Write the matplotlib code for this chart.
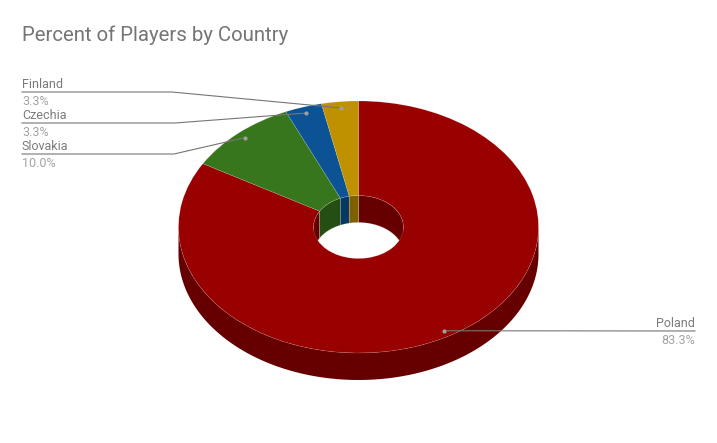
import numpy as np
import matplotlib
matplotlib.use("Agg")
import matplotlib.pyplot as plt

countries = ['Poland', 'Slovakia', 'Czechia', 'Finland']
percents = [83.3, 10.0, 3.3, 3.3]
colors = ['#990000', '#38761d', '#0b5394', '#bf9000']
wall_colors = ['#660000', '#254e13', '#073763', '#7f6000']

# label name -> (line x start, line x elbow, line y, text alignment)
label_spots = {
    'Finland': (22, 172, 92, 'left'),
    'Czechia': (22, 175, 123, 'left'),
    'Slovakia': (22, 174, 154, 'left'),
    'Poland': (695, 695, 331, 'right'),
}

W, H = 717, 443
CX, CY = 358.5, 227
R = 180
HOLE = 45
SQUASH = 0.7
DEPTH = 27 / SQUASH

plt.rcParams['font.family'] = ['Roboto', 'DejaVu Sans']

fig = plt.figure(figsize=(W / 100, H / 100), dpi=100)
ax = fig.add_axes([0, 0, 1, 1])

# wedge angles, clockwise from 12 o'clock
shares = np.array(percents) / sum(percents)
ends = 90 - 360 * np.cumsum(shares)
starts = np.concatenate([[90], ends[:-1]])


def wall(radius, a_hi, a_lo):
    t = np.radians(np.linspace(a_hi, a_lo, 120))
    x = radius * np.cos(t)
    y = radius * np.sin(t)
    return np.concatenate([x, x[::-1]]), np.concatenate([y, y[::-1] - DEPTH])


for a_hi, a_lo, c in zip(starts, ends, wall_colors):
    # outer wall only shows on the front half, inner wall on the back half
    for base in [-360, 0]:
        hi, lo = min(a_hi, base), max(a_lo, base - 180)
        if hi > lo:
            ax.fill(*wall(R, hi, lo), color=c, lw=0, zorder=1)
    for base in [180, -180]:
        hi, lo = min(a_hi, base), max(a_lo, base - 180)
        if hi > lo:
            x, y = wall(HOLE, hi, lo)
            ax.fill(x, y, color=c, ec=(1, 1, 1, 0.3), lw=0.4, zorder=1)

ax.pie(percents, colors=colors, startangle=90, counterclock=False, radius=R,
       wedgeprops=dict(width=R - HOLE, edgecolor=(1, 1, 1, 0.18), linewidth=0.5, zorder=2))

ax.set_aspect('auto')
ax.set_xlim(-CX, W - CX)
ax.set_ylim(-(H - CY) / SQUASH, CY / SQUASH)
ax.axis('off')


def to_data(px, py):
    return px - CX, (CY - py) / SQUASH


line_col = '#757575'
for name, pct, a_hi, a_lo in zip(countries, percents, starts, ends):
    mid = np.radians((a_hi + a_lo) / 2)
    dot = (0.95 * R * np.cos(mid), 0.95 * R * np.sin(mid))
    x0, x1, ly, ha = label_spots[name]
    p0 = to_data(x0, ly)
    p1 = to_data(x1, ly)
    ax.plot([p0[0], p1[0], dot[0]], [p0[1], p1[1], dot[1]], color=line_col, lw=0.8,
            solid_joinstyle='round', zorder=3)
    ax.plot(*dot, 'o', ms=3, color='#a0a0a0', mec='none', zorder=4)
    tx = to_data(x0 - 0.1, ly - 1.2)
    ax.text(tx[0], tx[1], name, color='#7b7b7b', fontsize=9, ha=ha, va='bottom', zorder=5)
    tx = to_data(x0 - 0.1, ly + 3)
    ax.text(tx[0], tx[1], f'{pct:.1f}%', color='#a3a3a3', fontsize=9, ha=ha, va='top', zorder=5)

fig.text(22 / W, 1 - 35 / H, 'Percent of Players by Country', color='#757575',
         fontsize=14.7, ha='left', va='center')

fig.savefig('out.png', dpi=100, facecolor='white')
